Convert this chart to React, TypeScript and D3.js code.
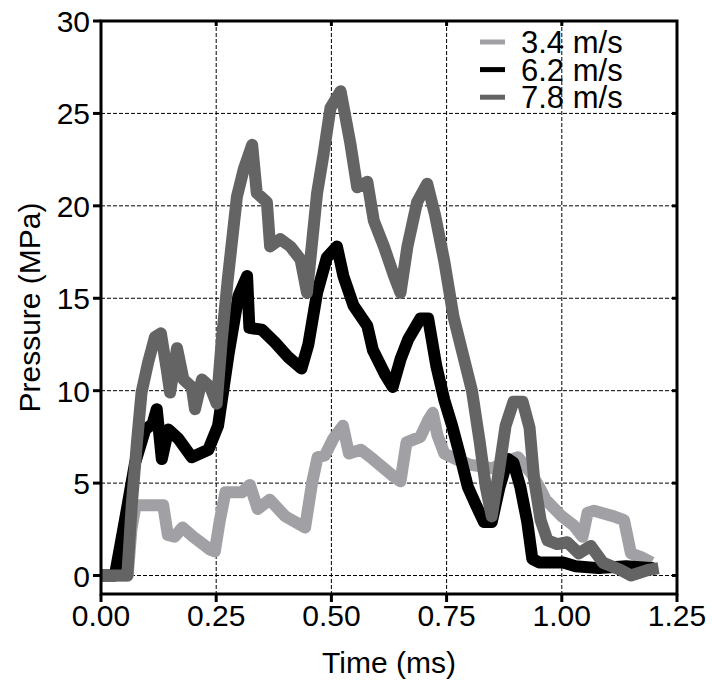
import React from "react";
import * as d3 from "d3";

const W = 712;
const H = 686;

const xTicks = [0, 0.25, 0.5, 0.75, 1.0, 1.25];
const yTicks = [0, 5, 10, 15, 20, 25, 30];
const seriesNames = ["3.4 m/s", "6.2 m/s", "7.8 m/s"];
const seriesColors = ["#a1a1a5", "#000000", "#646464"];

const t34 = [0, 0.058, 0.066, 0.075, 0.135, 0.145, 0.16, 0.177, 0.2, 0.237, 0.247, 0.258, 0.27, 0.306, 0.323, 0.34, 0.366, 0.4, 0.443, 0.458, 0.47, 0.486, 0.504, 0.525, 0.538, 0.564, 0.59, 0.633, 0.65, 0.663, 0.693, 0.71, 0.72, 0.73, 0.745, 0.77, 0.8, 0.85, 0.88, 0.905, 0.935, 0.955, 0.965, 1.0, 1.026, 1.045, 1.056, 1.07, 1.113, 1.135, 1.15, 1.172, 1.195];
const p34 = [0, 0, 2.5, 3.8, 3.8, 2.2, 2.1, 2.6, 2.1, 1.4, 1.3, 3.0, 4.5, 4.5, 4.9, 3.6, 4.1, 3.2, 2.6, 5.0, 6.4, 6.5, 7.4, 8.1, 6.6, 6.8, 6.3, 5.4, 5.1, 7.2, 7.5, 8.4, 8.8, 7.6, 6.6, 6.3, 6.0, 5.8, 6.2, 6.4, 5.5, 4.6, 4.1, 3.2, 2.7, 2.1, 3.4, 3.5, 3.2, 3.0, 1.2, 1.0, 0.7];

const t62 = [0, 0.03, 0.052, 0.074, 0.096, 0.112, 0.121, 0.132, 0.146, 0.168, 0.197, 0.233, 0.254, 0.277, 0.298, 0.317, 0.322, 0.349, 0.378, 0.407, 0.435, 0.45, 0.469, 0.49, 0.512, 0.526, 0.548, 0.578, 0.59, 0.616, 0.633, 0.65, 0.667, 0.693, 0.71, 0.728, 0.745, 0.762, 0.779, 0.796, 0.814, 0.831, 0.848, 0.865, 0.883, 0.895, 0.91, 0.925, 0.936, 0.951, 1.003, 1.03, 1.08, 1.14, 1.2];
const p62 = [0, 0, 3.0, 6.1, 7.9, 8.2, 9.0, 6.3, 7.9, 7.4, 6.4, 6.8, 8.1, 12.0, 15.1, 16.2, 13.4, 13.3, 12.6, 11.8, 11.2, 12.5, 15.3, 17.2, 17.8, 16.2, 14.6, 13.5, 12.2, 10.9, 10.2, 11.7, 12.8, 13.9, 13.9, 11.3, 9.5, 8.1, 6.5, 4.8, 3.8, 2.9, 2.9, 4.8, 6.3, 6.1, 4.8, 2.9, 0.9, 0.7, 0.7, 0.5, 0.4, 0.5, 0.4];

const t78 = [0, 0.057, 0.067, 0.078, 0.088, 0.102, 0.117, 0.13, 0.143, 0.15, 0.165, 0.179, 0.197, 0.204, 0.219, 0.237, 0.251, 0.262, 0.275, 0.295, 0.31, 0.328, 0.338, 0.36, 0.367, 0.389, 0.411, 0.433, 0.447, 0.469, 0.483, 0.498, 0.52, 0.541, 0.556, 0.578, 0.592, 0.614, 0.636, 0.65, 0.665, 0.686, 0.708, 0.725, 0.745, 0.765, 0.785, 0.805, 0.822, 0.835, 0.848, 0.865, 0.878, 0.895, 0.915, 0.93, 0.94, 0.954, 0.969, 0.99, 1.012, 1.037, 1.063, 1.089, 1.128, 1.15, 1.187, 1.21];
const p78 = [0, 0, 3.9, 7.2, 9.9, 11.5, 12.9, 13.1, 11.1, 9.9, 12.3, 10.6, 10.2, 9.0, 10.6, 10.2, 9.3, 12.7, 16.0, 20.5, 22.0, 23.3, 20.7, 20.2, 17.8, 18.2, 17.8, 17.1, 15.3, 20.7, 22.8, 25.3, 26.2, 23.4, 21.0, 21.3, 19.2, 17.8, 16.2, 15.3, 17.8, 20.2, 21.2, 19.5, 17.0, 14.0, 12.0, 10.0, 7.2, 4.8, 3.2, 5.9, 8.1, 9.4, 9.4, 8.0, 5.2, 3.0, 1.9, 1.7, 1.8, 1.2, 1.6, 0.7, 0.3, 0.0, 0.3, 0.4];

const seriesT = [t34, t62, t78];
const seriesP = [p34, p62, p78];

const FONT = "'Liberation Sans', Arial, Helvetica, sans-serif";

export default function App() {
  const left = 101, right = 677, top = 21, bottom = 594;
  const x = d3.scaleLinear().domain([0, 1.25]).range([left, right]);
  const y = d3.scaleLinear().domain([-1, 30]).range([bottom, top]);
  const line = d3
    .line<[number, number]>()
    .x((d) => x(d[0]))
    .y((d) => y(d[1]));

  const gridX = xTicks.slice(1, -1);
  const gridY = yTicks.slice(0, -1);
  const paths = seriesT.map(
    (ts, i) => line(ts.map((t, j) => [t, seriesP[i][j]] as [number, number])) || ""
  );
  const SW = 12;

  return (
    <svg
      width={W}
      height={H}
      style={{ position: "absolute", left: 0, top: 0, background: "#fff" }}
      fontFamily={FONT}
    >
      <rect x={0} y={0} width={W} height={H} fill="#fff" />
      {/* grid */}
      <g stroke="#000" strokeWidth={1} strokeDasharray="4,2">
        {gridX.map((v) => (
          <line key={"gx" + v} x1={x(v)} x2={x(v)} y1={top} y2={bottom} />
        ))}
        {gridY.map((v) => (
          <line key={"gy" + v} x1={left} x2={right} y1={y(v)} y2={y(v)} />
        ))}
      </g>
      {/* series */}
      {paths.map((d, i) => (
        <path
          key={"s" + i}
          d={d}
          fill="none"
          stroke={seriesColors[i]}
          strokeWidth={SW}
          strokeLinejoin="round"
          strokeLinecap="butt"
        />
      ))}
      {/* frame */}
      <rect x={left} y={top} width={right - left} height={bottom - top} fill="none" stroke="#000" strokeWidth={3} />
      {/* ticks */}
      <g stroke="#000" strokeWidth={3}>
        {xTicks.map((v) => (
          <line key={"bt" + v} x1={x(v)} x2={x(v)} y1={bottom} y2={bottom + 8} />
        ))}
        {gridX.map((v) => (
          <line key={"tt" + v} x1={x(v)} x2={x(v)} y1={top} y2={top + 5} />
        ))}
        {yTicks.map((v) => (
          <line key={"lt" + v} x1={left - 8} x2={left} y1={y(v)} y2={y(v)} />
        ))}
        {gridY.map((v) => (
          <line key={"rt" + v} x1={right - 5} x2={right} y1={y(v)} y2={y(v)} />
        ))}
      </g>
      {/* tick labels */}
      <g fontSize={30} fill="#000">
        {xTicks.map((v) => (
          <text key={"xl" + v} x={x(v)} y={bottom + 32} textAnchor="middle">
            {v.toFixed(2)}
          </text>
        ))}
        {yTicks.map((v) => (
          <text key={"yl" + v} x={left - 11} y={y(v) + 11} textAnchor="end">
            {v}
          </text>
        ))}
      </g>
      {/* axis titles */}
      <text x={(left + right) / 2} y={673} textAnchor="middle" fontSize={30}>
        Time (ms)
      </text>
      <text transform={`translate(40, ${(top + bottom) / 2}) rotate(-90)`} textAnchor="middle" fontSize={30}>
        Pressure (MPa)
      </text>
      {/* legend */}
      {seriesNames.map((n, i) => (
        <g key={"lg" + i}>
          <line x1={480} x2={505} y1={42 + i * 27.6} y2={42 + i * 27.6} stroke={seriesColors[i]} strokeWidth={5} />
          <text x={521} y={42 + i * 27.6 + 11} fontSize={31}>
            {n}
          </text>
        </g>
      ))}
    </svg>
  );
}
